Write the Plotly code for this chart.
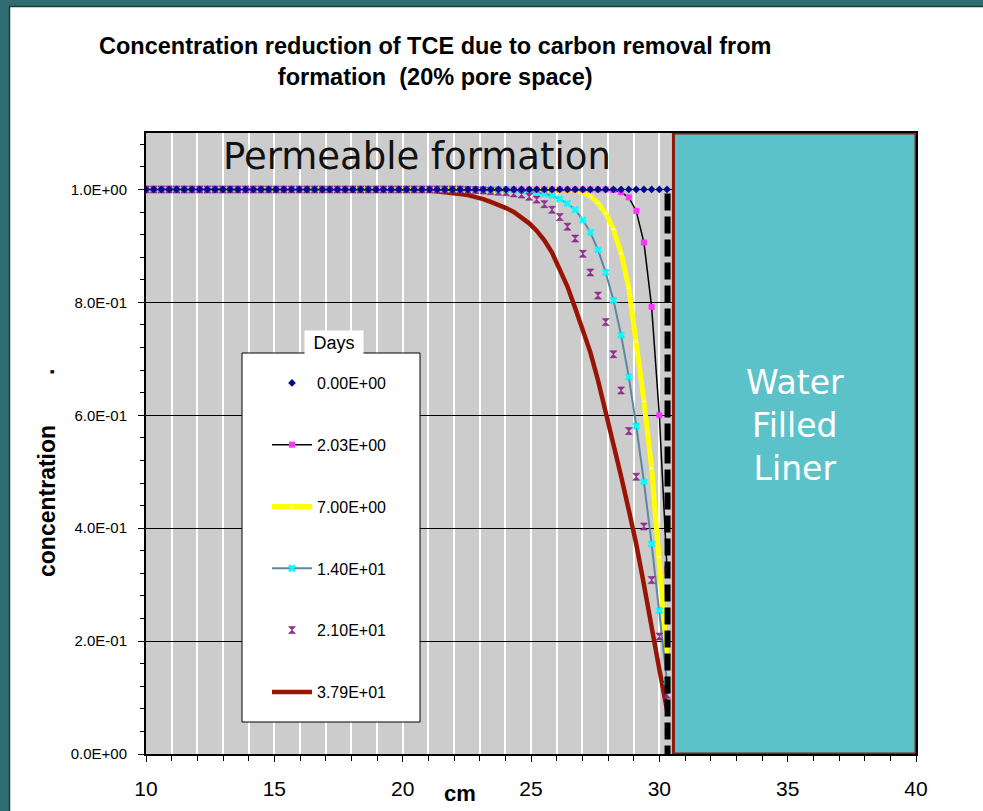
import plotly.graph_objects as go

# ---------------- data ----------------
x_cm = [10.00, 10.30, 10.60, 10.90, 11.19, 11.49, 11.79, 12.09, 12.39, 12.69,
        12.99, 13.28, 13.58, 13.88, 14.18, 14.48, 14.78, 15.07, 15.37, 15.67,
        15.97, 16.27, 16.57, 16.87, 17.16, 17.46, 17.76, 18.06, 18.36, 18.66,
        18.96, 19.25, 19.55, 19.85, 20.15, 20.45, 20.75, 21.05, 21.34, 21.64,
        21.94, 22.24, 22.54, 22.84, 23.14, 23.43, 23.73, 24.03, 24.33, 24.63,
        24.93, 25.22, 25.52, 25.82, 26.12, 26.42, 26.72, 27.02, 27.31, 27.61,
        27.91, 28.21, 28.51, 28.81, 29.10, 29.40, 29.70, 30.00, 30.30]

days_labels = ["0.00E+00", "2.03E+00", "7.00E+00", "1.40E+01", "2.10E+01", "3.79E+01"]

conc_day0 = [1.0] * 69
conc_day2 = [1.0] * 61 + [0.999, 0.995, 0.986, 0.962, 0.906, 0.792, 0.600, 0.327]
conc_day7 = [1.0] * 55 + [0.999, 0.998, 0.995, 0.988, 0.976, 0.958, 0.930, 0.887,
                          0.826, 0.730, 0.625, 0.506, 0.349, 0.170]
conc_day14 = [1.0] * 48 + [0.999, 0.998, 0.997, 0.995, 0.992, 0.989, 0.983, 0.975,
                           0.964, 0.946, 0.924, 0.893, 0.853, 0.804, 0.742, 0.668,
                           0.581, 0.482, 0.372, 0.254, 0.128]
conc_day21 = [1.0] * 42 + [0.999, 0.999, 0.998, 0.997, 0.996, 0.995, 0.993, 0.991,
                           0.987, 0.982, 0.974, 0.964, 0.951, 0.934, 0.913, 0.886,
                           0.853, 0.812, 0.765, 0.708, 0.644, 0.572, 0.491, 0.403,
                           0.308, 0.208, 0.105]
conc_day38 = [1.0] * 36 + [0.999, 0.998, 0.997, 0.996, 0.994, 0.992, 0.990, 0.987,
                           0.983, 0.978, 0.973, 0.967, 0.960, 0.951, 0.940, 0.927,
                           0.910, 0.888, 0.860, 0.828, 0.790, 0.752, 0.712, 0.662,
                           0.608, 0.550, 0.492, 0.432, 0.372, 0.300, 0.222, 0.150,
                           0.078]

x_tick_vals = [10, 15, 20, 25, 30, 35, 40]
y_tick_vals = [0.0, 0.2, 0.4, 0.6, 0.8, 1.0]
y_tick_text = ["0.0E+00", "2.0E-01", "4.0E-01", "6.0E-01", "8.0E-01", "1.0E+00"]

liner_start_cm = 30.55
liner_end_cm = 40.0
wall_cm = 30.32

# ---------------- layout helpers (pixel -> paper) ----------------
W, H = 983, 811
L, R, T, B = 146, 916, 133, 754


def px_x(px):
    return (px - L) / (R - L)


def px_y(py):
    return (B - py) / (B - T)


FONT = "Arial, 'Liberation Sans', sans-serif"
WIDE = "'DejaVu Sans', Verdana, sans-serif"

fig = go.Figure()

# draw order: lines first, markers on top; legend order by legendrank
fig.add_trace(go.Scatter(
    x=x_cm, y=conc_day38, mode="lines", name=days_labels[5],
    line=dict(color="#9A1405", width=4.5),
    legendgroup="g5", legendrank=6))
fig.add_trace(go.Scatter(
    x=x_cm, y=conc_day7, mode="lines+markers", name=days_labels[2],
    line=dict(color="#FFFF00", width=5),
    marker=dict(symbol="triangle-up", size=4, color="#FFFFB0"),
    legendgroup="g2", legendrank=3))
fig.add_trace(go.Scatter(
    x=x_cm, y=conc_day14, mode="lines+markers", name=days_labels[3],
    line=dict(color="#5E87A2", width=2),
    marker=dict(symbol="x", size=7, color="#00FFFF"),
    legendgroup="g3", legendrank=4))
fig.add_trace(go.Scatter(
    x=x_cm, y=conc_day2, mode="lines+markers", name=days_labels[1],
    line=dict(color="#000000", width=1.5),
    marker=dict(symbol="square", size=6, color="#FF33FF"),
    legendgroup="g1", legendrank=2))
fig.add_trace(go.Scatter(
    x=x_cm, y=conc_day21, mode="markers", name=days_labels[4],
    marker=dict(symbol="hourglass", size=7, color="#9C2C9C",
                line=dict(color="#6E1A6E", width=0.5)),
    legendgroup="g4", legendrank=5))
fig.add_trace(go.Scatter(
    x=x_cm, y=conc_day0, mode="markers", name=days_labels[0],
    marker=dict(symbol="diamond", size=6, color="#000A8C"),
    legendgroup="g0", legendrank=1))

shapes = [
    # water filled liner
    dict(type="rect", xref="x", yref="y", x0=liner_start_cm, x1=liner_end_cm, y0=0, y1=1.1,
         fillcolor="#5CC2C9", line=dict(color="#8E1A0C", width=3), layer="above"),
    # borehole wall (dashed)
    dict(type="line", xref="x", yref="y", x0=wall_cm, x1=wall_cm, y0=0.993, y1=0.0,
         line=dict(color="black", width=6, dash="17px,6px"), layer="above"),
    # legend box
    dict(type="rect", xref="paper", yref="paper", x0=px_x(242), x1=px_x(420),
         y0=px_y(722), y1=px_y(353), fillcolor="white",
         line=dict(color="black", width=1), layer="above"),
    # slide frame (teal strips on left and top)
    dict(type="rect", xref="paper", yref="paper", x0=px_x(0), x1=px_x(9),
         y0=px_y(H), y1=px_y(0), fillcolor="#2E6C72", line=dict(width=0), layer="above"),
    dict(type="rect", xref="paper", yref="paper", x0=px_x(0), x1=px_x(W),
         y0=px_y(6), y1=px_y(0), fillcolor="#2E6C72", line=dict(width=0), layer="above"),
    dict(type="line", xref="paper", yref="paper", x0=px_x(9.5), x1=px_x(9.5),
         y0=px_y(H), y1=px_y(6), line=dict(color="#1C3C40", width=1.5), layer="above"),
    dict(type="line", xref="paper", yref="paper", x0=px_x(9), x1=px_x(W),
         y0=px_y(6.5), y1=px_y(6.5), line=dict(color="#1C3C40", width=1.5), layer="above"),
]

annotations = [
    dict(text="Concentration reduction of TCE due to carbon removal from<br>formation  (20% pore space)",
         xref="paper", yref="paper", x=px_x(434.5), y=px_y(61.5), xanchor="center", yanchor="middle",
         showarrow=False, font=dict(family=FONT, size=23.5, color="black", weight="bold")),
    dict(text="Permeable formation", xref="paper", yref="paper", x=px_x(417), y=px_y(157),
         xanchor="center", yanchor="middle", showarrow=False,
         font=dict(family=WIDE, size=37, color="#111111")),
    dict(text="Water<br>Filled<br>Liner", xref="paper", yref="paper", x=px_x(795), y=px_y(425),
         xanchor="center", yanchor="middle", showarrow=False,
         font=dict(family=WIDE, size=33, color="white")),
    dict(text="concentration", xref="paper", yref="paper", x=px_x(47), y=px_y(501),
         xanchor="center", yanchor="middle", textangle=-90, showarrow=False,
         font=dict(family=FONT, size=23, color="black", weight="bold")),
    dict(text=".", xref="paper", yref="paper", x=px_x(46), y=px_y(372),
         xanchor="center", yanchor="middle", textangle=-90, showarrow=False,
         font=dict(family=FONT, size=23, color="black", weight="bold")),
    dict(text="cm", xref="paper", yref="paper", x=px_x(460), y=px_y(793),
         xanchor="center", yanchor="middle", showarrow=False,
         font=dict(family=FONT, size=22, color="black", weight="bold")),
    dict(text="Days", xref="paper", yref="paper", x=px_x(334), y=px_y(342.5),
         xanchor="center", yanchor="middle", showarrow=False, bgcolor="white",
         width=58, height=24, borderpad=0,
         font=dict(family=FONT, size=18, color="black")),
]

fig.update_layout(
    width=W, height=H,
    margin=dict(l=L, r=W - R, t=T, b=H - B, autoexpand=False),
    paper_bgcolor="white", plot_bgcolor="#CCCCCC",
    font=dict(family=FONT, color="black"),
    showlegend=True,
    legend=dict(x=px_x(267), y=px_y(366), xanchor="left", yanchor="top",
                bgcolor="rgba(0,0,0,0)", borderwidth=0, itemwidth=40,
                tracegroupgap=38, font=dict(family=FONT, size=16, color="black")),
    shapes=shapes, annotations=annotations,
    xaxis=dict(range=[10, 40], tickmode="array", tickvals=x_tick_vals, automargin=False,
               ticks="outside", ticklen=6, tickwidth=1, tickcolor="black",
               tickfont=dict(family=FONT, size=21, color="black"), ticklabelstandoff=9,
               showgrid=True, gridcolor="white", gridwidth=1.5,
               minor=dict(tickmode="linear", tick0=10, dtick=1, ticks="outside", ticklen=5,
                          tickcolor="black", showgrid=True, gridcolor="white", gridwidth=1.5),
               showline=True, linecolor="black", linewidth=2, mirror=True, zeroline=False),
    yaxis=dict(range=[0, 1.1], tickmode="array", tickvals=y_tick_vals, ticktext=y_tick_text,
               automargin=False,
               ticks="outside", ticklen=6, tickwidth=1, tickcolor="black",
               tickfont=dict(family=FONT, size=15, color="black"), ticklabelstandoff=8,
               showgrid=True, gridcolor="black", gridwidth=1,
               minor=dict(tickmode="linear", tick0=0, dtick=0.04, ticks="outside", ticklen=4,
                          tickcolor="black", showgrid=False),
               showline=True, linecolor="black", linewidth=2, mirror=True, zeroline=False),
)

fig.write_html("out.html", config={"displayModeBar": False},
               post_script="document.body.style.margin='0';document.body.style.overflow='hidden';")
